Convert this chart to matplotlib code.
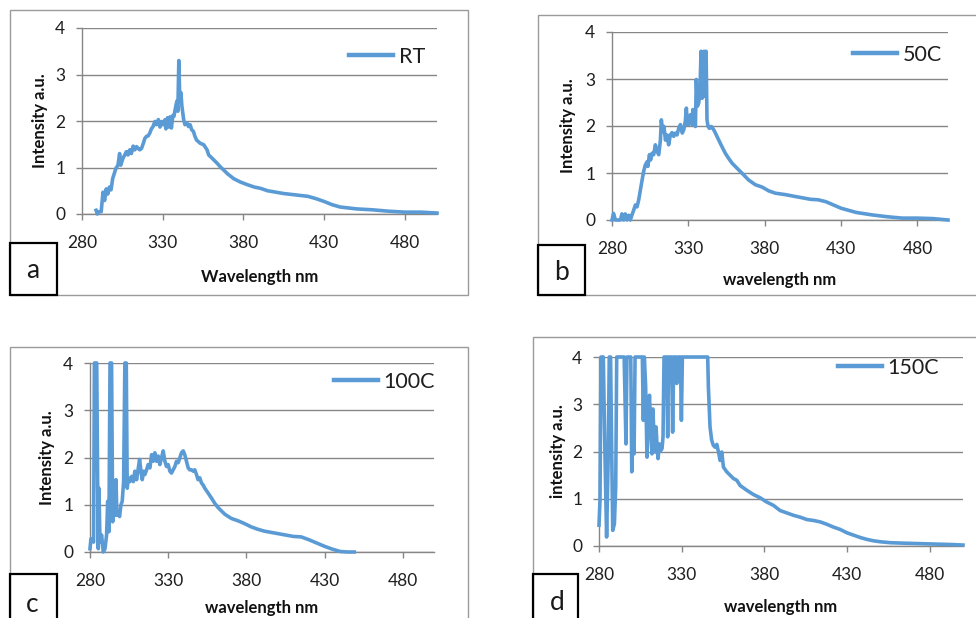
import numpy as np
import matplotlib.pyplot as plt
from matplotlib.patches import Rectangle

# ---- data (wavelength nm, intensity a.u.) ----
wl_a = [288.7, 289.5, 290.5, 291.9, 293, 294, 295, 296, 297, 298, 299, 300, 301,
        302.3, 303.3, 304, 305.4, 306.5, 307.5, 308.5, 309.6, 310.6, 311.7, 312.7,
        313.8, 314.8, 315.8, 316.9, 318, 319, 320, 321, 322, 323, 324, 325.2, 326,
        327.3, 328.3, 329.4, 330.4, 331.5, 332, 333, 333.8, 334.6, 335.4, 336.3,
        337, 337.9, 338.8, 339.4, 340, 340.6, 341.3, 341.9, 343, 343.8, 345, 346,
        347, 348, 349, 350, 351, 353.3, 355.4, 357.5, 358.5, 360.6, 363.8, 365.8,
        368, 370, 374, 378, 382.5, 386.7, 390.8, 395, 400, 405, 410, 415, 420, 425,
        430, 435, 440, 445, 450, 460, 470, 480, 490, 500]
int_a = [0.08, 0.0, 0.05, 0.05, 0.47, 0.29, 0.54, 0.43, 0.58, 0.52, 0.76, 0.87, 0.98,
         1.05, 1.30, 1.05, 1.20, 1.27, 1.34, 1.27, 1.38, 1.30, 1.46, 1.38,
         1.45, 1.41, 1.38, 1.41, 1.52, 1.63, 1.67, 1.68, 1.74, 1.83, 1.88, 1.99, 1.92,
         2.03, 1.87, 1.99, 1.92, 2.03, 1.83, 2.07, 1.87, 2.09, 1.85, 2.12,
         2.10, 2.28, 2.43, 2.21, 3.30, 2.46, 2.61, 2.32, 2.03, 1.92, 1.96, 1.88,
         1.92, 1.81, 1.78, 1.67, 1.59, 1.52, 1.49, 1.38, 1.27, 1.20, 1.09, 1.01,
         0.94, 0.87, 0.76, 0.69, 0.63, 0.58, 0.55, 0.50, 0.47, 0.44, 0.42, 0.40, 0.38, 0.33,
         0.27, 0.20, 0.15, 0.13, 0.11, 0.09, 0.06, 0.04, 0.04, 0.02]

wl_b = [280, 281, 282.2, 285.5, 286.5, 287.6, 288.7, 289.8, 291, 292, 293, 294.2,
        295.3, 296.4, 297.5, 298.6, 299.7, 300.7, 301.8, 303, 303.5, 304.5, 305.3,
        306.2, 307.3, 308.4, 309.5, 310.6, 311.7, 312.3, 313.2, 314, 315, 316, 317.1,
        318.2, 319.3, 320.4, 321.5, 322.6, 323.7, 324.8, 326, 327, 328, 328.7, 329.3,
        330.2, 331.3, 332.4, 333, 333.7, 334.6, 335.2, 335.9, 336.8, 337.6, 338.3,
        339, 339.6, 340.3, 341, 341.6, 342.2, 342.9, 343.8, 345, 346.6, 347.7, 349.9,
        352, 354.2, 356.4, 358.6, 361.9, 365, 369.5, 373.9, 378.3, 382.6, 387, 393.5,
        400, 410, 415, 420, 425, 430, 440, 450, 460, 470, 480, 490, 500]
int_b = [0.0, 0.14, 0.0, 0.0, 0.13, 0.0, 0.13, 0.0, 0.10, 0.0, 0.10, 0.21,
         0.32, 0.28, 0.43, 0.64, 0.85, 1.03, 1.17, 1.24, 1.14, 1.39, 1.28,
         1.42, 1.39, 1.60, 1.46, 1.39, 1.70, 2.13, 1.88, 1.99, 1.70, 1.81, 1.60,
         1.81, 1.86, 1.78, 1.85, 1.81, 1.95, 2.03, 1.85, 1.92, 2.10, 2.38, 2.03,
         2.03, 2.24, 2.03, 2.35, 2.03, 1.99, 2.99, 2.42, 2.49, 2.77, 3.59,
         2.59, 2.70, 3.59, 2.63, 3.59, 2.13, 1.99, 1.95, 1.99, 1.92, 1.85, 1.70,
         1.56, 1.42, 1.31, 1.21, 1.10, 1.00, 0.85, 0.75, 0.70, 0.62, 0.57, 0.54,
         0.50, 0.44, 0.43, 0.39, 0.32, 0.25, 0.16, 0.11, 0.07, 0.04, 0.04, 0.03, 0.0]

wl_c = [280, 280.6, 281.5, 282.3, 282.8, 284.3, 284.9, 285.3, 285.7, 286.4, 287.4,
        288.5, 289.6, 290.6, 291.3, 292.1, 292.8, 293.8, 294.5, 295.1, 296, 296.6,
        297.2, 298.1, 298.9, 299.8, 300.6, 301.5, 302.3, 303.2, 303.8, 304.5, 305.5,
        306.6, 307.7, 308.7, 309.8, 310.9, 311.7, 312.6, 313.4, 314.3, 315.1, 316.2,
        317.2, 318.3, 319.4, 320.4, 321.5, 322.6, 323.6, 324.7, 325.7, 326.8, 327.9,
        328.9, 330, 331.1, 332.1, 333.2, 334.3, 335.3, 336.4, 337.4, 338.5, 339.6,
        340.6, 341.7, 342.8, 343.8, 344.9, 346, 347, 348.1, 349.1, 350.2, 351.3,
        352.3, 353.4, 355.5, 357.7, 359.8, 361.9, 366.2, 370.4, 374.7, 378.9, 383.2,
        387.4, 391.7, 400, 410, 415, 420, 425, 430, 435, 440, 445, 449]
int_c = [0.07, 0.28, 0.25, 0.21, 4.0, 4.0, 1.42, 0.07, 1.35, 0.21, 0.36,
         0.0, 0.07, 0.36, 1.07, 0.43, 4.0, 4.0, 0.64, 1.07, 0.78, 1.53,
         0.78, 0.85, 0.75, 1.00, 1.07, 1.49, 4.0, 4.0, 1.35, 1.57, 1.49,
         1.60, 1.49, 1.71, 1.53, 1.78, 1.96, 1.71, 1.53, 1.71, 1.64, 1.74,
         1.85, 1.78, 2.06, 1.92, 2.10, 1.92, 2.03, 1.85, 1.99, 2.14, 1.92,
         1.81, 1.85, 1.71, 1.67, 1.74, 1.81, 1.92, 1.89, 1.99, 2.10, 2.14,
         2.06, 1.92, 1.78, 1.74, 1.74, 1.71, 1.74, 1.64, 1.53, 1.57, 1.46,
         1.42, 1.35, 1.25, 1.14, 1.03, 0.94, 0.80, 0.71, 0.66, 0.60, 0.53,
         0.48, 0.44, 0.39, 0.33, 0.32, 0.26, 0.19, 0.12, 0.06, 0.01, 0.0, 0.0]

wl_d = [280, 280.6, 281.2, 282.6, 283.6, 284.6, 285.6, 286.2, 287, 287.7, 288.3,
        289.3, 290.1, 290.7, 295.2, 296.3, 296.9, 299.2, 299.8, 300.4, 301.2, 301.8,
        306.2, 306.8, 307.4, 308.2, 309, 309.7, 310.5, 311.3, 312, 312.6, 313.3,
        313.9, 314.5, 315.1, 315.7, 316.5, 317.3, 318.1, 318.7, 319.3, 320.9, 321.5,
        322.1, 323.9, 324.5, 325.2, 326.3, 327, 327.6, 329.2, 329.8, 330.4, 345.7,
        346.1, 346.7, 347.1, 348.1, 349.1, 350.2, 351.2, 352.2, 353.2, 354.2, 355.2,
        357.2, 359.2, 361.2, 363.3, 365.3, 369.3, 373.3, 377.4, 381.4, 385.4, 389.5,
        393.5, 397.5, 401.6, 405.6, 409.7, 413.7, 417.7, 421.7, 425.8, 429.8, 433.8,
        437.9, 441.9, 445.9, 450, 456, 464, 474, 484, 494, 500]
int_d = [0.44, 0.97, 4.0, 4.0, 1.95, 0.19, 1.95, 4.0, 4.0, 1.95, 0.33,
         0.47, 1.25, 4.0, 4.0, 2.16, 4.0, 4.0, 1.57, 2.66, 1.95, 4.0,
         4.0, 2.66, 4.0, 3.37, 1.88, 2.66, 3.19, 2.45, 1.95, 2.90, 2.23,
         1.99, 2.52, 2.10, 1.85, 2.16, 2.02, 2.06, 2.31, 4.0, 4.0, 2.31,
         4.0, 4.0, 2.41, 4.0, 4.0, 3.44, 4.0, 4.0, 2.66, 4.0, 4.0,
         3.37, 2.87, 2.52, 2.24, 2.13, 2.09, 2.15, 1.99, 1.81, 1.99, 1.67,
         1.57, 1.50, 1.43, 1.39, 1.28, 1.18, 1.09, 1.02, 0.93, 0.86, 0.75,
         0.70, 0.65, 0.61, 0.56, 0.54, 0.51, 0.46, 0.40, 0.35, 0.28, 0.23,
         0.18, 0.14, 0.11, 0.09, 0.07, 0.06, 0.05, 0.04, 0.03, 0.02]

series_names = ['RT', '50C', '100C', '150C']
panel_letters = ['a', 'b', 'c', 'd']
x_labels = ['Wavelength nm', 'wavelength nm', 'wavelength nm', 'wavelength nm']
y_labels = ['Intensity a.u.', 'Intensity a.u.', 'Intensity a.u.', 'intensity a.u.']
x_ticks = [280, 330, 380, 430, 480]
y_ticks = [0, 1, 2, 3, 4]

W, H = 976, 618
BLUE = '#5b9bd5'
GRID = '#868686'
plt.rcParams['font.family'] = ['Lato', 'DejaVu Sans']


def fig_rect(x0, y0, x1, y1):
    # pixel box (top-left origin) -> figure fraction rect
    return [x0 / W, 1 - y1 / H, (x1 - x0) / W, (y1 - y0) / H]


fig = plt.figure(figsize=(W / 100, H / 100), dpi=100)
fig.patch.set_facecolor('white')

# plot areas, outer chart boxes, letter boxes, legend anchors (pixels)
plot_boxes = [(82, 28, 437, 214), (612, 32, 948, 220),
              (90, 363, 434, 552), (599, 357, 963, 546)]
outer_boxes = [(10, 10, 468, 295), (538, 15, 985, 295),
               (10, 347, 468, 630), (533, 337, 985, 630)]
letter_boxes = [(10, 243, 57, 295), (538, 245, 585, 295),
                (10, 574, 57, 630), (533, 574, 578, 630)]
letter_pos = [(33, 271), (562, 272), (32, 605), (557, 603)]
legend_pos = [(349, 57), (853, 55), (334, 382), (838, 368)]
ylabel_x = [40, 568, 47, 558]
xlabel_y = [277, 280, 608, 607]

data = [(wl_a, int_a), (wl_b, int_b), (wl_c, int_c), (wl_d, int_d)]

for i in range(4):
    ox0, oy0, ox1, oy1 = outer_boxes[i]
    fig.patches.append(Rectangle((ox0 / W, 1 - oy1 / H), (ox1 - ox0) / W, (oy1 - oy0) / H,
                                 transform=fig.transFigure, fill=False,
                                 ec='#9a9a9a', lw=1.0, zorder=0))
    lx0, ly0, lx1, ly1 = letter_boxes[i]
    fig.patches.append(Rectangle((lx0 / W, 1 - ly1 / H), (lx1 - lx0) / W, (ly1 - ly0) / H,
                                 transform=fig.transFigure, fill=False,
                                 ec='black', lw=1.6, zorder=5))
    fig.text(letter_pos[i][0] / W, 1 - letter_pos[i][1] / H, panel_letters[i],
             fontsize=19, ha='center', va='center', color='#1a1a1a')

    ax = fig.add_axes(fig_rect(*plot_boxes[i]))
    wl, inten = data[i]
    ax.plot(wl, inten, color=BLUE, lw=2.6, clip_on=False, label=series_names[i],
            solid_joinstyle='round', zorder=3)
    ax.set_xlim(280, 500)
    ax.set_ylim(0, 4)
    ax.set_xticks(x_ticks)
    ax.set_yticks(y_ticks)
    ax.yaxis.grid(True, color=GRID, lw=1.0)
    ax.set_axisbelow(True)
    for s in ['top', 'right']:
        ax.spines[s].set_visible(False)
    for s in ['left', 'bottom']:
        ax.spines[s].set_color(GRID)
        ax.spines[s].set_linewidth(1.0)
    ax.tick_params(axis='x', direction='out', length=4, width=1.0, color=GRID,
                   labelsize=12.5, labelcolor='#1f1f1f', pad=11)
    ax.tick_params(axis='y', direction='out', length=4, width=1.0, color=GRID,
                   labelsize=12.5, labelcolor='#1f1f1f', pad=8)

    x0, y0, x1, y1 = plot_boxes[i]
    fig.text((x0 + x1) / 2 / W, 1 - xlabel_y[i] / H, x_labels[i], fontsize=12,
             fontweight='bold', ha='center', va='center', color='#111111')
    fig.text(ylabel_x[i] / W, 1 - (y0 + y1) / 2 / H, y_labels[i], fontsize=12,
             fontweight='bold', ha='center', va='center', rotation=90, color='#111111')

    lg = ax.legend(loc='center left',
                   bbox_to_anchor=(legend_pos[i][0] / W, 1 - legend_pos[i][1] / H),
                   bbox_transform=fig.transFigure, frameon=False, borderpad=0,
                   borderaxespad=0, handlelength=2.05, handletextpad=0.25,
                   fontsize=15.5)
    for t in lg.get_texts():
        t.set_color('#1f1f1f')
    for h in lg.legend_handles:
        h.set_linewidth(3.2)

fig.savefig('out.png', dpi=100, facecolor='white')
